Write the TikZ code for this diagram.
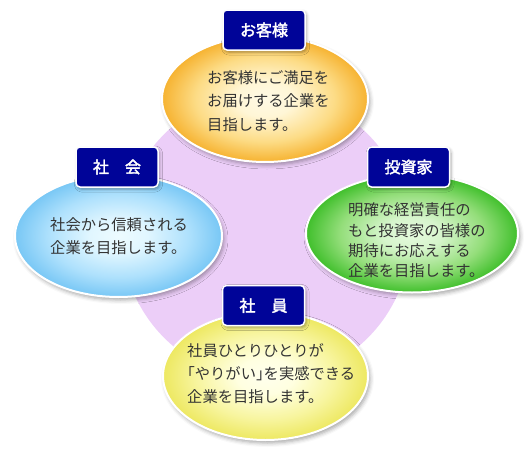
\documentclass[tikz,border=0pt]{standalone}
\usepackage{fontspec}
\newfontfamily\jp{Noto Sans CJK JP}
\newfontfamily\jpb{Noto Sans CJK JP}[FakeBold=2.2]
\usetikzlibrary{shapes.geometric,shadows.blur}
\definecolor{ringpurple}{RGB}{236,206,248}
\definecolor{navybox}{RGB}{0,4,152}
\definecolor{txtgray}{RGB}{51,51,51}
\pgfdeclareradialshading{shorange}{\pgfpoint{0bp}{0bp}}{rgb(0bp)=(1,0.98,0.90); rgb(7bp)=(1,0.965,0.84); rgb(17bp)=(0.99,0.86,0.52); rgb(25bp)=(0.965,0.70,0.19); rgb(50bp)=(0.965,0.70,0.19)}
\pgfdeclareradialshading{shblue}{\pgfpoint{0bp}{0bp}}{rgb(0bp)=(0.93,0.985,1); rgb(7bp)=(0.88,0.965,1); rgb(17bp)=(0.68,0.88,0.99); rgb(25bp)=(0.47,0.78,0.96); rgb(50bp)=(0.47,0.78,0.96)}
\pgfdeclareradialshading{shgreen}{\pgfpoint{0bp}{0bp}}{rgb(0bp)=(0.90,0.98,0.87); rgb(7bp)=(0.84,0.96,0.80); rgb(17bp)=(0.58,0.87,0.48); rgb(25bp)=(0.25,0.75,0.17); rgb(50bp)=(0.25,0.75,0.17)}
\pgfdeclareradialshading{shyellow}{\pgfpoint{0bp}{0bp}}{rgb(0bp)=(1,1,0.93); rgb(7bp)=(1,1,0.88); rgb(17bp)=(0.97,0.96,0.62); rgb(25bp)=(0.93,0.91,0.38); rgb(50bp)=(0.93,0.91,0.38)}
\tikzset{
  oval/.style={ellipse, draw=white, line width=2pt, inner sep=0pt,
    blur shadow={shadow xshift=2pt, shadow yshift=-3pt, shadow blur radius=4pt, shadow opacity=35}},
  labelbox/.style={rectangle, rounded corners=4pt, draw=white, line width=1.5pt,
    fill=navybox, text=white, font=\jpb\fontsize{16pt}{16pt}\selectfont,
    minimum width=82pt, minimum height=40pt, inner sep=0pt,
    blur shadow={shadow xshift=1.5pt, shadow yshift=-2pt, shadow blur radius=3pt, shadow opacity=35}},
  bodytext/.style={align=left, text=txtgray, inner sep=0pt, anchor=west}
}
\begin{document}
\begin{tikzpicture}[x=1pt,y=-1pt]
\useasboundingbox (0,0) rectangle (530,455);
% purple disc
\fill[ringpurple] (266,236) circle[radius=144];
% ellipses
\node[oval, shading=shorange, minimum width=206pt, minimum height=126pt] (cust) at (265,99) {};
\node[oval, shading=shblue, minimum width=207pt, minimum height=122pt] (soc) at (118.5,236) {};
\node[oval, shading=shgreen, minimum width=212pt, minimum height=118pt] (inv) at (412,233.5) {};
\node[oval, shading=shyellow, minimum width=205pt, minimum height=128pt] (emp) at (265.5,376) {};
% labels
\node[labelbox] (lcust) at (264,30) {お客様};
\node[labelbox] (linv) at (408.5,167) {投資家};
\node[labelbox] (lsoc) at (117,167) {社　会};
\node[labelbox] (lemp) at (263.5,305.5) {社　員};
% texts
\node[bodytext, font=\jp\fontsize{15.3pt}{23.5pt}\selectfont] (tcust) at (207,101)
  {お客様にご満足を\\お届けする企業を\\目指します。};
\node[bodytext, font=\jp\fontsize{15.3pt}{23pt}\selectfont] (tsoc) at (50,236.5)
  {社会から信頼される\\企業を目指します。};
\node[bodytext, font=\jp\fontsize{15.3pt}{20.3pt}\selectfont] (tinv) at (348,240.5)
  {明確な経営責任の\\もと投資家の皆様の\\期待にお応えする\\企業を目指します。};
\node[bodytext, font=\jp\fontsize{15.3pt}{23pt}\selectfont] (temp) at (187,374)
  {社員ひとりひとりが\\\mbox{\kern-0.5em「}やりがい」\kern-0.5em を実感できる\\企業を目指します。};
\end{tikzpicture}
\end{document}
